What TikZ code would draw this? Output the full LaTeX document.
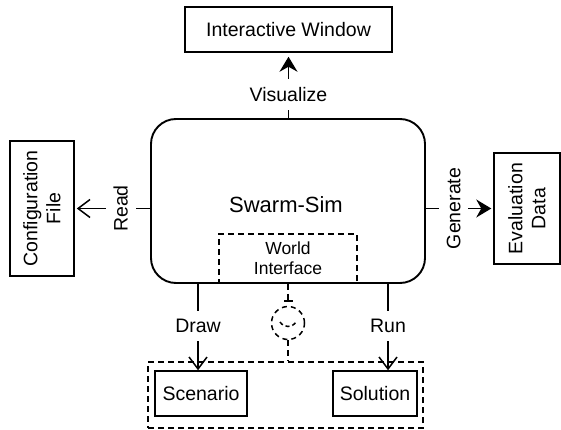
\documentclass[tikz,border=0pt]{standalone}
\usepackage{fontspec}
\setmainfont{Liberation Sans}
\usetikzlibrary{arrows.meta}
\begin{document}
\begin{tikzpicture}[x=1pt,y=-1pt,line width=1.5pt,
		box/.style={draw,rectangle,inner sep=0pt,align=center,font=\fontsize{19.5}{23}\selectfont},
		dbox/.style={box,dash pattern=on 6pt off 4pt},
		lbl/.style={fill=white,inner sep=8pt,font=\fontsize{19.5}{23}\selectfont},
		openarr/.style={-{Straight Barb[length=12pt,width=18pt]}},
		fillarr/.style={-{Stealth[length=15pt,width=18pt,inset=5pt]}}]
	\useasboundingbox(0,0)rectangle(561,430);
	\node[box,rounded corners=25pt,line width=1.9pt,minimum width=274pt,minimum height=164pt](sim)at(288,201){};
	\node[font=\fontsize{22}{26}\selectfont](simname)at(286,205){Swarm-Sim};
	\node[box,minimum width=207pt,minimum height=45pt](iw)at(288.5,29.5){Interactive Window};
	\node[box,rotate=90,minimum width=135pt,minimum height=64pt](cfg)at(42,208.5){Configuration\\File};
	\node[box,rotate=90,minimum width=111pt,minimum height=66pt](eval)at(527,208.5){Evaluation\\Data};
	\node[dbox,minimum width=138pt,minimum height=49pt,font=\fontsize{17.5}{20}\selectfont](wi)at(288,258.5){World\\Interface};
	\node[dbox,minimum width=275pt,minimum height=66pt](grp)at(285.5,395){};
	\node[box,minimum width=92pt,minimum height=45pt](scen)at(201,393.5){Scenario};
	\node[box,minimum width=84pt,minimum height=45pt](sol)at(375,393.5){Solution};
	\coordinate(drawtip)at([xshift=-3pt]scen.north);
	\coordinate(runtip)at([xshift=13pt]sol.north);
	\draw[fillarr,shorten >=4pt](sim.north-|iw)--node[lbl,pos=.36](vis){Visualize}(iw.south);
	\draw[openarr,shorten >=2pt](sim.west|-cfg)--node[lbl,pos=.39,rotate=90](rd){Read}(cfg);
	\draw[fillarr,shorten >=2pt](sim.east|-eval)--node[lbl,pos=.41,rotate=90](gen){Generate}(eval);
	\draw[openarr](sim.south-|drawtip)--node[lbl,pos=.49](drw){Draw}(drawtip);
	\draw[openarr](sim.south-|runtip)--node[lbl,pos=.49](run){Run}(runtip);
	\node[circle,draw,dash pattern=on 5pt off 4pt,minimum size=33pt,inner sep=0pt](sock)at(288,323){};
	\draw[dash pattern=on 6pt off 4pt,-{Bar[width=9pt]},shorten >=4pt](wi.south)--(sock.north);
	\draw[dash pattern=on 4pt off 3pt](280,322)..controls(284,328)and(292,328)..(296,322);
	\draw[dash pattern=on 6pt off 4pt](sock.south)--(sock.south|-grp.north);
\end{tikzpicture}
\end{document}
